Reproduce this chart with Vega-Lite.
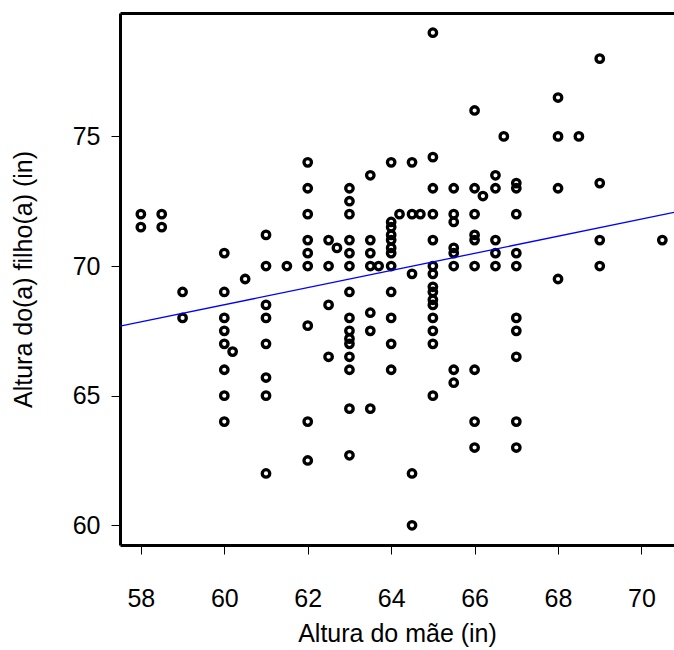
{
  "$schema": "https://vega.github.io/schema/vega-lite/v6.json",
  "width": 554,
  "height": 532,
  "autosize": {"type": "none"},
  "padding": {"left": 120, "top": 13, "right": 0, "bottom": 105},
  "background": "white",
  "config": {
    "view": {"stroke": null},
    "font": "Liberation Sans",
    "axis": {"labelFont": "Liberation Sans", "titleFont": "Liberation Sans", "labelColor": "black", "titleColor": "black", "titleFontWeight": "normal", "grid": false}
  },
  "datasets": {
    "pontos": [
      {"mae": 58, "filho": 72}, {"mae": 58, "filho": 71.5},
      {"mae": 58.5, "filho": 72}, {"mae": 58.5, "filho": 71.5},
      {"mae": 59, "filho": 69}, {"mae": 59, "filho": 68},
      {"mae": 60, "filho": 70.5}, {"mae": 60, "filho": 69}, {"mae": 60, "filho": 68}, {"mae": 60, "filho": 67.5}, {"mae": 60, "filho": 67}, {"mae": 60, "filho": 66}, {"mae": 60, "filho": 65}, {"mae": 60, "filho": 64},
      {"mae": 60.2, "filho": 66.7},
      {"mae": 60.5, "filho": 69.5},
      {"mae": 61, "filho": 71.2}, {"mae": 61, "filho": 70}, {"mae": 61, "filho": 68.5}, {"mae": 61, "filho": 68}, {"mae": 61, "filho": 67}, {"mae": 61, "filho": 65.7}, {"mae": 61, "filho": 65}, {"mae": 61, "filho": 62},
      {"mae": 61.5, "filho": 70},
      {"mae": 62, "filho": 74}, {"mae": 62, "filho": 73}, {"mae": 62, "filho": 72}, {"mae": 62, "filho": 71}, {"mae": 62, "filho": 70.5}, {"mae": 62, "filho": 70}, {"mae": 62, "filho": 67.7}, {"mae": 62, "filho": 64}, {"mae": 62, "filho": 62.5},
      {"mae": 62.5, "filho": 71}, {"mae": 62.5, "filho": 70}, {"mae": 62.5, "filho": 68.5}, {"mae": 62.5, "filho": 66.5},
      {"mae": 62.7, "filho": 70.7},
      {"mae": 63, "filho": 73}, {"mae": 63, "filho": 72.5}, {"mae": 63, "filho": 72}, {"mae": 63, "filho": 71}, {"mae": 63, "filho": 70.5}, {"mae": 63, "filho": 70}, {"mae": 63, "filho": 69}, {"mae": 63, "filho": 68}, {"mae": 63, "filho": 67.5}, {"mae": 63, "filho": 67.2}, {"mae": 63, "filho": 67}, {"mae": 63, "filho": 66.5}, {"mae": 63, "filho": 66}, {"mae": 63, "filho": 64.5}, {"mae": 63, "filho": 62.7},
      {"mae": 63.5, "filho": 73.5}, {"mae": 63.5, "filho": 71}, {"mae": 63.5, "filho": 70.5}, {"mae": 63.5, "filho": 70}, {"mae": 63.5, "filho": 68.2}, {"mae": 63.5, "filho": 67.5}, {"mae": 63.5, "filho": 64.5},
      {"mae": 63.7, "filho": 70},
      {"mae": 64, "filho": 74}, {"mae": 64, "filho": 71.7}, {"mae": 64, "filho": 71.5}, {"mae": 64, "filho": 71.2}, {"mae": 64, "filho": 71}, {"mae": 64, "filho": 70.7}, {"mae": 64, "filho": 70.5}, {"mae": 64, "filho": 70}, {"mae": 64, "filho": 69}, {"mae": 64, "filho": 68}, {"mae": 64, "filho": 67}, {"mae": 64, "filho": 66},
      {"mae": 64.2, "filho": 72},
      {"mae": 64.5, "filho": 74}, {"mae": 64.5, "filho": 72}, {"mae": 64.5, "filho": 69.7}, {"mae": 64.5, "filho": 62}, {"mae": 64.5, "filho": 60},
      {"mae": 64.7, "filho": 72},
      {"mae": 65, "filho": 79}, {"mae": 65, "filho": 74.2}, {"mae": 65, "filho": 73}, {"mae": 65, "filho": 72}, {"mae": 65, "filho": 71}, {"mae": 65, "filho": 70}, {"mae": 65, "filho": 69.7}, {"mae": 65, "filho": 69.2}, {"mae": 65, "filho": 69}, {"mae": 65, "filho": 68.7}, {"mae": 65, "filho": 68.5}, {"mae": 65, "filho": 68}, {"mae": 65, "filho": 67.5}, {"mae": 65, "filho": 67}, {"mae": 65, "filho": 65},
      {"mae": 65.5, "filho": 73}, {"mae": 65.5, "filho": 72}, {"mae": 65.5, "filho": 71.7}, {"mae": 65.5, "filho": 70.7}, {"mae": 65.5, "filho": 70.5}, {"mae": 65.5, "filho": 70}, {"mae": 65.5, "filho": 66}, {"mae": 65.5, "filho": 65.5},
      {"mae": 66, "filho": 76}, {"mae": 66, "filho": 73}, {"mae": 66, "filho": 72}, {"mae": 66, "filho": 71.2}, {"mae": 66, "filho": 71}, {"mae": 66, "filho": 70}, {"mae": 66, "filho": 66}, {"mae": 66, "filho": 64}, {"mae": 66, "filho": 63},
      {"mae": 66.2, "filho": 72.7},
      {"mae": 66.5, "filho": 73.5}, {"mae": 66.5, "filho": 73}, {"mae": 66.5, "filho": 71}, {"mae": 66.5, "filho": 70.5}, {"mae": 66.5, "filho": 70},
      {"mae": 66.7, "filho": 75},
      {"mae": 67, "filho": 73.2}, {"mae": 67, "filho": 73}, {"mae": 67, "filho": 72}, {"mae": 67, "filho": 70.5}, {"mae": 67, "filho": 70}, {"mae": 67, "filho": 68}, {"mae": 67, "filho": 67.5}, {"mae": 67, "filho": 66.5}, {"mae": 67, "filho": 64}, {"mae": 67, "filho": 63},
      {"mae": 68, "filho": 76.5}, {"mae": 68, "filho": 75}, {"mae": 68, "filho": 73}, {"mae": 68, "filho": 69.5},
      {"mae": 68.5, "filho": 75},
      {"mae": 69, "filho": 78}, {"mae": 69, "filho": 73.2}, {"mae": 69, "filho": 71}, {"mae": 69, "filho": 70},
      {"mae": 70.5, "filho": 71}
    ],
    "reta": [
      {"mae": 57.5, "filho": 67.68},
      {"mae": 70.78, "filho": 72.07}
    ]
  },
  "layer": [
    {
      "data": {"name": "pontos"},
      "mark": {"type": "point", "filled": false, "shape": "circle", "size": 56, "strokeWidth": 3.3, "color": "black", "opacity": 1, "clip": true},
      "encoding": {
        "x": {
          "field": "mae", "type": "quantitative",
          "scale": {"domain": [57.5, 70.78], "nice": false, "zero": false},
          "axis": {"values": [58, 60, 62, 64, 66, 68, 70], "title": "Altura do mãe (in)", "titleFontSize": 25, "titlePadding": 10, "labelFontSize": 25, "labelPadding": 32, "tickSize": 9, "tickColor": "black", "tickWidth": 1, "domainColor": "black", "domainWidth": 3, "labelFlush": false}
        },
        "y": {
          "field": "filho", "type": "quantitative",
          "scale": {"domain": [59.24, 79.76], "nice": false, "zero": false},
          "axis": {"values": [60, 65, 70, 75], "title": "Altura do(a) filho(a) (in)", "titleFontSize": 25, "titlePadding": 36, "labelFontSize": 25, "labelPadding": 11, "tickSize": 9, "tickColor": "black", "tickWidth": 1, "domainColor": "black", "domainWidth": 3, "labelFlush": false}
        }
      }
    },
    {
      "data": {"name": "reta"},
      "mark": {"type": "line", "color": "#0000ff", "strokeWidth": 1.3, "clip": true},
      "encoding": {
        "x": {"field": "mae", "type": "quantitative", "axis": {"orient": "top", "title": null, "labels": false, "ticks": false, "domainColor": "black", "domainWidth": 3}},
        "y": {"field": "filho", "type": "quantitative"}
      }
    }
  ],
  "resolve": {"axis": {"x": "independent"}}
}
